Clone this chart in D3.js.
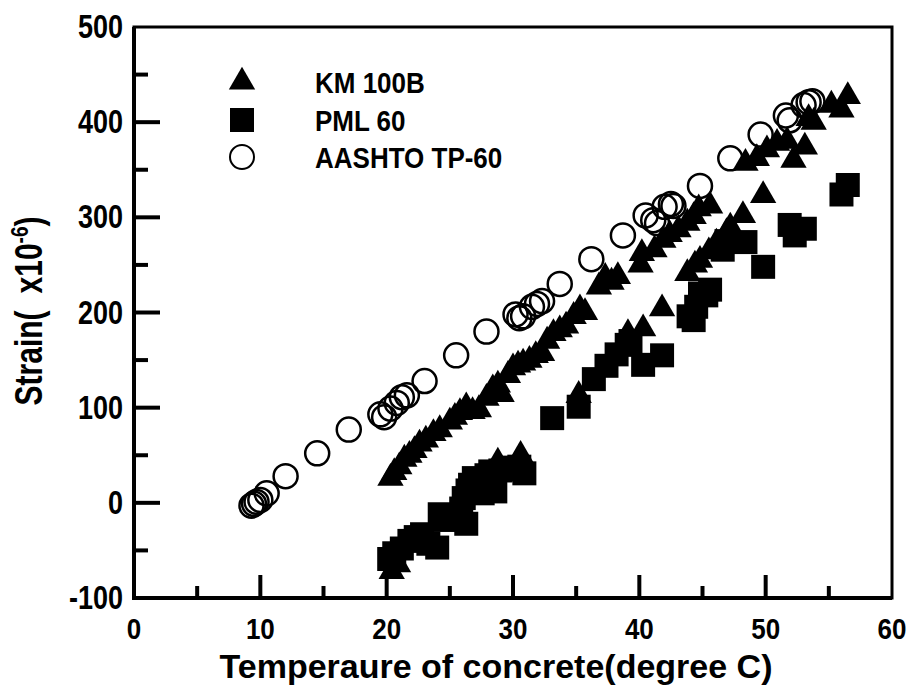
<!DOCTYPE html>
<html>
<head>
<meta charset="utf-8">
<script src="https://cdn.jsdelivr.net/npm/d3@7"></script>
<style>
body { margin: 0; background: #fff; }
text { font-family: "Liberation Sans", Arial, sans-serif; font-weight: bold; fill: #000; }
</style>
</head>
<body>
<script>
// KM 100B (triangles)
const kmTemp = [20.3,20.6,21.0,21.4,21.8,22.2,22.6,23.1,23.7,24.2,25.0,25.4,25.8,26.3,26.8,27.3,27.9,28.4,28.8,29.1,
  29.6,30.0,30.4,30.8,31.3,31.8,32.3,32.7,33.2,33.7,34.2,34.8,35.3,35.7,36.8,37.3,37.8,38.3,40.1,40.2,
  41.2,41.9,42.4,43.1,43.8,44.3,44.7,45.6,48.2,48.4,49.3,49.8,50.1,50.9,51.7,52.2,53.1,53.4,53.8,55.2,56.0,56.5,
  20.4,20.9,28.8,30.6,35.2,39.1,40.3,41.8,43.8,44.4,44.8,45.5,46.1,46.9,47.2];
const kmStrain = [26,32,38,46,50,55,62,66,73,77,85,90,95,101,96,98,110,120,124,114,
  134,142,145,147,150,155,157,170,178,182,186,196,204,200,227,237,232,238,250,262,
  266,276,282,287,294,301,309,312,302,357,362,323,371,378,380,360,374,404,400,418,413,427,
  -72,-65,43,50,113,178,183,204,241,250,255,264,273,284,290];

// PML 60 (squares)
const pmlTemp = [20.2,20.6,21.2,21.8,22.3,22.8,23.3,24.0,24.2,24.6,25.4,25.9,26.1,26.3,26.4,26.6,26.9,27.3,27.6,27.9,
  28.2,28.6,29.0,29.5,30.0,30.5,30.9,33.1,35.2,36.4,37.4,38.2,39.0,39.3,40.3,41.8,43.9,44.3,44.5,44.8,
  45.3,45.6,46.6,46.9,48.4,49.8,51.9,52.3,53.1,56.0,56.5];
const pmlStrain = [-59,-53,-48,-40,-36,-33,-43,-47,-12,-18,-17,-6,5,-22,13,19,26,22,10,29,
  33,12,34,37,35,38,31,89,101,130,144,156,166,170,145,155,196,192,206,220,
  218,224,266,275,274,248,292,281,288,324,334];

// AASHTO TP-60 (open circles)
const aasTemp = [9.3,9.5,9.7,10.0,10.5,12.0,14.5,17.0,19.5,19.8,20.3,20.8,21.2,21.6,23.0,25.5,27.9,30.2,30.5,30.8,
  31.5,31.9,32.3,33.7,36.2,38.7,40.5,41.1,41.4,42.0,42.5,42.7,44.8,47.2,49.6,51.6,51.9,53.0,53.4,53.7];
const aasStrain = [-3,-1,1,3,10,28,52,77,93,90,99,105,111,113,128,155,180,198,194,196,
  206,209,212,230,256,281,302,297,294,311,314,312,333,362,387,407,402,418,421,422];

const seriesNames = ["KM 100B", "PML 60", "AASHTO TP-60"];
const xTicks = [0, 10, 20, 30, 40, 50, 60];
const yTicks = [-100, 0, 100, 200, 300, 400, 500];

const width = 910, height = 686;
const pLeft = 134, pRight = 892, pTop = 27, pBottom = 598;

const svg = d3.select("body").append("svg")
  .attr("width", width)
  .attr("height", height);

const x = d3.scaleLinear().domain([0, 60]).range([pLeft, pRight]);
const y = d3.scaleLinear().domain([-100, 500]).range([pBottom, pTop]);

// ticks pointing inward
const xMinor = d3.range(5, 60, 10);
const yMinor = d3.range(-50, 500, 100);

const tickG = svg.append("g").attr("stroke", "#000").attr("stroke-width", 4);
tickG.selectAll(".xt").data(xTicks.slice(1, -1)).join("line")
  .attr("x1", d => x(d)).attr("x2", d => x(d))
  .attr("y1", pBottom).attr("y2", pBottom - 23);
tickG.selectAll(".xm").data(xMinor).join("line")
  .attr("x1", d => x(d)).attr("x2", d => x(d))
  .attr("y1", pBottom).attr("y2", pBottom - 12);
tickG.selectAll(".yt").data(yTicks.slice(1, -1)).join("line")
  .attr("x1", pLeft).attr("x2", pLeft + 26)
  .attr("y1", d => y(d)).attr("y2", d => y(d));
tickG.selectAll(".ym").data(yMinor).join("line")
  .attr("x1", pLeft).attr("x2", pLeft + 14)
  .attr("y1", d => y(d)).attr("y2", d => y(d));

// frame
svg.append("rect")
  .attr("x", pLeft).attr("y", pTop)
  .attr("width", pRight - pLeft).attr("height", pBottom - pTop)
  .attr("fill", "none").attr("stroke", "#000").attr("stroke-width", 3);
svg.append("line").attr("x1", pLeft).attr("x2", pLeft).attr("y1", pTop).attr("y2", pBottom + 2)
  .attr("stroke", "#000").attr("stroke-width", 4);
svg.append("line").attr("x1", pLeft - 2).attr("x2", pRight).attr("y1", pBottom).attr("y2", pBottom)
  .attr("stroke", "#000").attr("stroke-width", 4);

// the source text is a bit taller than Arial, so stretch it vertically
const stretch = 1.12;

// tick labels
svg.append("g").selectAll("text").data(xTicks).join("text")
  .attr("transform", d => `translate(${x(d)},${pBottom + 41}) scale(1,${stretch})`)
  .attr("text-anchor", "middle")
  .style("font-size", "26px")
  .text(d => d);
svg.append("g").selectAll("text").data(yTicks).join("text")
  .attr("transform", d => `translate(${pLeft - 11},${y(d) + 11}) scale(1,1.2)`)
  .attr("text-anchor", "end")
  .style("font-size", "27px")
  .text(d => d);

// axis titles
svg.append("text")
  .attr("x", 496).attr("y", 678)
  .attr("text-anchor", "middle")
  .style("font-size", "34px")
  .text("Temperaure of concrete(degree C)");

const yt = svg.append("text")
  .attr("transform", "translate(42,311) rotate(-90) scale(1,1.3)")
  .attr("text-anchor", "middle")
  .style("font-size", "30px");
yt.append("tspan").text("Strain(");
yt.append("tspan").attr("dx", 17).text("x10");
yt.append("tspan").attr("dy", -11).style("font-size", "19px").text("-6");
yt.append("tspan").attr("dy", 11).text(")");

// marks
const tri = d3.symbol().type(d3.symbolTriangle).size(300)();
const sq = d3.symbol().type(d3.symbolSquare).size(576)();

svg.append("g").selectAll("path")
  .data(kmTemp.map((t, i) => [t, kmStrain[i]]))
  .join("path")
  .attr("d", tri)
  .attr("transform", d => `translate(${x(d[0])},${y(d[1])})`)
  .attr("fill", "#000");

svg.append("g").selectAll("path")
  .data(pmlTemp.map((t, i) => [t, pmlStrain[i]]))
  .join("path")
  .attr("d", sq)
  .attr("transform", d => `translate(${x(d[0])},${y(d[1])})`)
  .attr("fill", "#000");

svg.append("g").selectAll("circle")
  .data(aasTemp.map((t, i) => [t, aasStrain[i]]))
  .join("circle")
  .attr("cx", d => x(d[0])).attr("cy", d => y(d[1]))
  .attr("r", 12)
  .attr("fill", "none").attr("stroke", "#000").attr("stroke-width", 2.5);

// legend
const legY = [82, 120, 157];
const lg = svg.append("g");
lg.append("path").attr("d", tri).attr("transform", `translate(242,${legY[0]})`).attr("fill", "#000");
lg.append("path").attr("d", sq).attr("transform", `translate(242,${legY[1]})`).attr("fill", "#000");
lg.append("circle").attr("cx", 242).attr("cy", legY[2]).attr("r", 12)
  .attr("fill", "none").attr("stroke", "#000").attr("stroke-width", 2);
lg.selectAll("text").data(seriesNames).join("text")
  .attr("transform", (d, i) => `translate(315,${legY[i] + 11}) scale(1,1.13)`)
  .style("font-size", "26px")
  .text(d => d);
</script>
</body>
</html>
